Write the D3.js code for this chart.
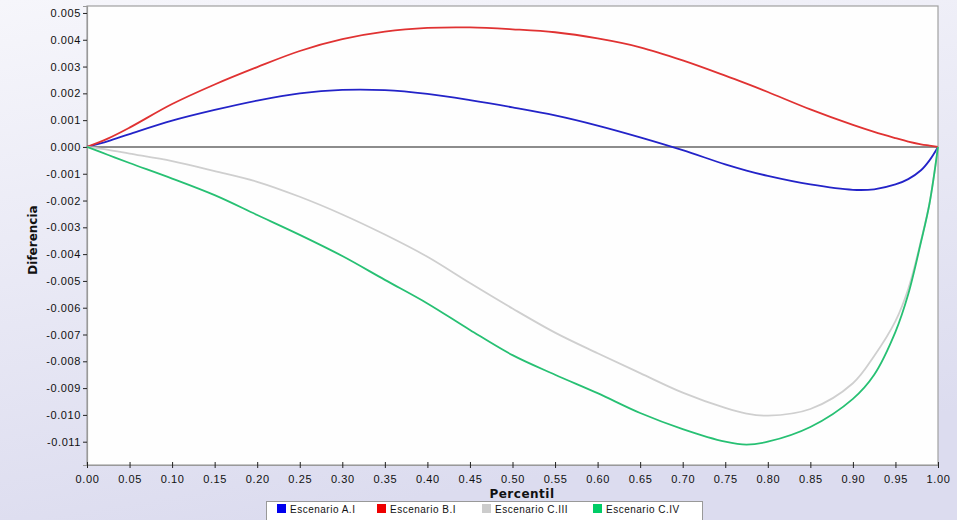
<!DOCTYPE html>
<html>
<head>
<meta charset="utf-8">
<script src="https://cdn.jsdelivr.net/npm/d3@7"></script>
<style>
  html, body { margin: 0; padding: 0; }
  body { width: 957px; height: 520px; overflow: hidden; }
  svg { display: block; font-family: "DejaVu Sans", Verdana, sans-serif; }
</style>
</head>
<body>
<svg id="chart" width="957" height="520"></svg>
<script>
// ---- data ----
const percentiles = [0, 0.025, 0.05, 0.10, 0.15, 0.20, 0.25, 0.30, 0.35, 0.40, 0.45, 0.50, 0.55, 0.60, 0.65, 0.70, 0.75, 0.775, 0.80, 0.85, 0.90, 0.925, 0.95, 0.965, 0.98, 0.99, 1.00];
const escenarioAI   = [0, 0.00022, 0.00048, 0.00098, 0.00138, 0.00173, 0.00200, 0.00213, 0.00212, 0.00198, 0.00175, 0.00148, 0.00118, 0.00080, 0.00036, -0.00012, -0.00065, -0.00088, -0.00108, -0.00140, -0.00160, -0.00158, -0.00140, -0.00120, -0.00087, -0.00050, 0];
const escenarioBI   = [0, 0.00032, 0.00072, 0.00160, 0.00233, 0.00298, 0.00358, 0.00402, 0.00430, 0.00444, 0.00446, 0.00439, 0.00428, 0.00405, 0.00372, 0.00323, 0.00266, 0.00236, 0.00205, 0.00140, 0.00082, 0.00056, 0.00033, 0.00020, 0.00010, 0.00005, 0];
const escenarioCIII = [0, -0.00011, -0.00025, -0.00053, -0.00090, -0.00130, -0.00186, -0.00252, -0.00327, -0.00410, -0.00508, -0.00603, -0.00693, -0.00770, -0.00844, -0.00917, -0.00974, -0.00995, -0.01003, -0.00978, -0.00882, -0.00780, -0.00650, -0.00530, -0.00350, -0.00210, 0];
const escenarioCIV  = [0, -0.00030, -0.00060, -0.00118, -0.00180, -0.00254, -0.00328, -0.00407, -0.00496, -0.00584, -0.00683, -0.00777, -0.00850, -0.00919, -0.00993, -0.01053, -0.01100, -0.01111, -0.01100, -0.01045, -0.00940, -0.00850, -0.00690, -0.00550, -0.00355, -0.00212, 0];
const seriesNames = ["Escenario A.I", "Escenario B.I", "Escenario C.III", "Escenario C.IV"];
const xTicks = [0, 0.05, 0.10, 0.15, 0.20, 0.25, 0.30, 0.35, 0.40, 0.45, 0.50, 0.55, 0.60, 0.65, 0.70, 0.75, 0.80, 0.85, 0.90, 0.95, 1.00];
const yTicks = [0.005, 0.004, 0.003, 0.002, 0.001, 0, -0.001, -0.002, -0.003, -0.004, -0.005, -0.006, -0.007, -0.008, -0.009, -0.010, -0.011];

const lineColors = ["#2323c8", "#e03232", "#cfcfcf", "#27c073"];
const legendColors = ["#0000ee", "#ee0000", "#cccccc", "#00cc66"];
const allSeries = [escenarioAI, escenarioBI, escenarioCIII, escenarioCIV];

// ---- layout ----
const svg = d3.select("#chart");
const W = 957, H = 520;
const m = { left: 87, right: 938, top: 6, bottom: 465 };

const defs = svg.append("defs");
const grad = defs.append("linearGradient").attr("id", "bg")
  .attr("x1", "0").attr("y1", "0").attr("x2", "0.3").attr("y2", "1");
grad.append("stop").attr("offset", "0").attr("stop-color", "#f6f6fb");
grad.append("stop").attr("offset", "1").attr("stop-color", "#dcdcef");
svg.append("rect").attr("width", W).attr("height", H).attr("fill", "url(#bg)");

const x = d3.scaleLinear().domain([0, 1]).range([m.left, m.right]);
const y = d3.scaleLinear().domain([-0.01187, 0.00526]).range([m.bottom, m.top]);

// plot area
svg.append("rect")
  .attr("x", m.left).attr("y", m.top)
  .attr("width", m.right - m.left).attr("height", m.bottom - m.top)
  .attr("fill", "#fefefe").attr("stroke", "#a0a0a0").attr("stroke-width", 1.2);

// zero line
svg.append("line")
  .attr("x1", m.left).attr("x2", m.right)
  .attr("y1", y(0)).attr("y2", y(0))
  .attr("stroke", "#666").attr("stroke-width", 1.5);

// axes
const yAxis = d3.axisLeft(y).tickValues(yTicks).tickSize(4).tickPadding(2)
  .tickFormat(d => d3.format(".3f")(d).replace("−", "-"));
const gy = svg.append("g").attr("transform", `translate(${m.left},0)`).call(yAxis);
gy.select(".domain").attr("stroke", "#999").attr("stroke-width", 1.2);
gy.selectAll(".tick line").attr("stroke", "#222");
gy.selectAll(".tick text").attr("font-size", 11).attr("fill", "#111")
  .attr("font-family", "'Liberation Sans', Arial, sans-serif").attr("letter-spacing", 0.6);

const xAxis = d3.axisBottom(x).tickValues(xTicks).tickSize(0).tickPadding(10)
  .tickFormat(d3.format(".2f"));
const gx = svg.append("g").attr("transform", `translate(0,${m.bottom})`).call(xAxis);
gx.select(".domain").attr("stroke", "#999").attr("stroke-width", 1.2);
gx.selectAll(".tick").append("line").attr("y1", -3).attr("y2", 3).attr("stroke", "#222");
gx.selectAll(".tick text").attr("font-size", 11).attr("fill", "#111")
  .attr("font-family", "'Liberation Sans', Arial, sans-serif").attr("letter-spacing", 0.6);

// lines
const line = d3.line()
  .x((d, i) => x(percentiles[i]))
  .y(d => y(d))
  .curve(d3.curveCatmullRom.alpha(0.5));

allSeries.forEach((s, k) => {
  svg.append("path")
    .datum(s)
    .attr("d", line)
    .attr("fill", "none")
    .attr("stroke", lineColors[k])
    .attr("stroke-width", 1.8)
    .attr("stroke-linejoin", "round");
});

// axis titles
svg.append("text")
  .attr("x", 522).attr("y", 498)
  .attr("text-anchor", "middle")
  .attr("font-size", 12).attr("font-weight", "bold").attr("fill", "#111")
  .attr("letter-spacing", 0.5)
  .text("Percentil");
svg.append("text")
  .attr("transform", `translate(37,240) rotate(-90)`)
  .attr("text-anchor", "middle")
  .attr("font-size", 12).attr("font-weight", "bold").attr("fill", "#111")
  .text("Diferencia");

// legend
const legend = svg.append("g");
legend.append("rect")
  .attr("x", 266.5).attr("y", 501.5).attr("width", 436).attr("height", 20)
  .attr("fill", "#ffffff").attr("stroke", "#999");
const legendX = [277, 377, 482, 593];
seriesNames.forEach((n, k) => {
  legend.append("rect")
    .attr("x", legendX[k]).attr("y", 504).attr("width", 9).attr("height", 9)
    .attr("fill", legendColors[k]);
  legend.append("text")
    .attr("x", legendX[k] + 13).attr("y", 513)
    .attr("font-size", 10).attr("fill", "#111").attr("letter-spacing", 0.5)
    .attr("font-family", "'Liberation Sans', Arial, sans-serif")
    .text(n);
});
</script>
</body>
</html>
